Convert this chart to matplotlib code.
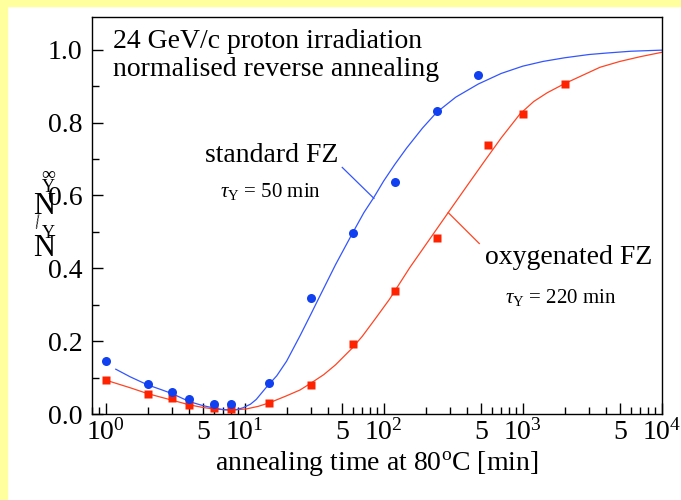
import numpy as np
import matplotlib.pyplot as plt
from matplotlib.ticker import FixedLocator, LogLocator, NullFormatter, FixedFormatter, MultipleLocator
from matplotlib.patches import Rectangle

# ---- measured data: normalised reverse annealing amplitude ----
t_std = [1, 2, 3, 4, 6, 8, 15, 30, 60, 120, 240, 480]
n_std = [0.146, 0.082, 0.060, 0.041, 0.027, 0.027, 0.085, 0.319, 0.498, 0.638, 0.833, 0.932]

t_oxy = [1, 2, 3, 4, 6, 8, 15, 30, 60, 120, 240, 560, 1000, 2000]
n_oxy = [0.093, 0.055, 0.044, 0.025, 0.016, 0.014, 0.030, 0.080, 0.192, 0.338, 0.484, 0.739, 0.825, 0.907]

# ---- fit curves (sampled) ----
t_fit_std = [1.18, 1.5, 2.0, 2.5, 3.0, 4.0, 5.0, 5.9, 7.0, 7.8, 8.7, 9.7, 11, 12.1, 14.2, 17, 20, 25,
             30, 33.8, 45, 59.7, 72, 85, 100, 120, 146, 190, 240, 330, 479, 700, 1000, 1400, 2000,
             3000, 4000, 6000, 10000]
n_fit_std = [0.123, 0.102, 0.080, 0.067, 0.056, 0.034, 0.023, 0.017, 0.012, 0.011, 0.012, 0.017,
             0.027, 0.040, 0.072, 0.105, 0.145, 0.215, 0.275, 0.315, 0.410, 0.497, 0.553, 0.595,
             0.640, 0.685, 0.730, 0.785, 0.828, 0.870, 0.906, 0.935, 0.955, 0.968, 0.978, 0.987,
             0.991, 0.996, 0.999]

t_fit_oxy = [1.0, 1.5, 2.0, 2.5, 3.0, 4.0, 5.0, 5.9, 7.0, 7.8, 9, 10.3, 12.5, 15.1, 20, 25, 30, 37,
             45, 59, 70, 86.4, 110, 154, 200, 291, 400, 535, 700, 957, 1200, 1500, 2000, 2700,
             3600, 5000, 7000, 10000]
n_fit_oxy = [0.093, 0.072, 0.056, 0.046, 0.038, 0.025, 0.018, 0.014, 0.012, 0.011, 0.012, 0.014,
             0.021, 0.031, 0.050, 0.066, 0.085, 0.108, 0.135, 0.180, 0.213, 0.260, 0.315, 0.402,
             0.464, 0.553, 0.628, 0.696, 0.758, 0.824, 0.858, 0.882, 0.907, 0.930, 0.952, 0.968,
             0.981, 0.993]

x_major = [1, 5, 10, 50, 100, 500, 1000, 5000, 10000]
x_major_labels = [r"$10^0$", "5", r"$10^1$", "5", r"$10^2$", "5", r"$10^3$", "5", r"$10^4$"]

plt.rcParams.update({
    "font.family": "Liberation Serif",
    "mathtext.fontset": "custom",
    "mathtext.rm": "Liberation Serif",
    "mathtext.it": "Liberation Serif:italic",
    "font.size": 20,
})

W, H = 681, 500
fig = plt.figure(figsize=(W / 100, H / 100), dpi=100)
fig.patch.set_facecolor("white")
# yellow frame strips (left and top)
fig.patches.append(Rectangle((0, 0), 7 / W, 1, transform=fig.transFigure, color="#FFFF9E", zorder=0))
fig.patches.append(Rectangle((0, 1 - 6 / H), 1, 6 / H, transform=fig.transFigure, color="#FFFF9E", zorder=0))

ax = fig.add_axes([92.3 / W, 1 - 414 / H, (661.7 - 92.3) / W, (414 - 17) / H])
ax.set_xscale("log")
ax.set_xlim(0.8, 1e4)
ax.set_ylim(0, 1.09)

blue_line = "#3355FF"
red_line = "#FF4422"

ax.plot(t_fit_oxy, n_fit_oxy, color=red_line, lw=0.9, zorder=2)
ax.plot(t_fit_std, n_fit_std, color=blue_line, lw=0.9, zorder=2)
ax.plot(t_oxy, n_oxy, "s", color="#FF2200", ms=6.3, mec="none", zorder=3)
ax.plot(t_std, n_std, "o", color="#1040F0", ms=6.5, mec="none", zorder=4)

# leader lines to the labels
ax.plot([50.3, 85], [0.677, 0.592], color=blue_line, lw=0.9)
ax.plot([291, 487], [0.553, 0.468], color=red_line, lw=0.9)

# ticks
ax.xaxis.set_major_locator(FixedLocator(x_major))
ax.xaxis.set_major_formatter(FixedFormatter(x_major_labels))
ax.xaxis.set_minor_locator(LogLocator(base=10, subs=(2, 3, 4, 6, 7, 8, 9)))
ax.xaxis.set_minor_formatter(NullFormatter())
ax.yaxis.set_major_locator(MultipleLocator(0.2))
ax.yaxis.set_minor_locator(MultipleLocator(0.1))
ax.yaxis.set_major_formatter(plt.FuncFormatter(lambda v, p: f"{v:.1f}"))
ax.tick_params(which="both", direction="in", top=False, right=False, width=1.0, labelsize=20)
ax.tick_params(which="major", length=8, pad=4)
ax.tick_params(which="minor", length=5)
ax.tick_params(axis="y", pad=7)
for s in ax.spines.values():
    s.set_linewidth(1.0)

ax.set_xlabel(r"annealing time at 80$^{\rm o}$C [min]", fontsize=20, labelpad=2)


def ftext(x, y, s, **kw):
    fig.text(x / W, 1 - y / H, s, **kw)


ftext(113, 42, "24 GeV/c proton irradiation", fontsize=20, va="center", ha="left")
ftext(113, 70, "normalised reverse annealing", fontsize=20, va="center", ha="left")
ftext(205, 155, "standard FZ", fontsize=20, va="center", ha="left")
ftext(220, 192, r"$\tau_{\rm Y}$ = 50 min", fontsize=15, va="center", ha="left")
ftext(485, 257, "oxygenated FZ", fontsize=20, va="center", ha="left")
ftext(505, 298, r"$\tau_{\rm Y}$ = 220 min", fontsize=15, va="center", ha="left")

# stacked y-axis label N_Y / N_Y^inf
ftext(48, 176, "\u221e", fontsize=14, va="center", ha="center")
ftext(48, 188, "Y", fontsize=13, va="center", ha="center")
ftext(44, 207, "N", fontsize=22, va="center", ha="center")
ftext(38, 224, "/", fontsize=15, va="center", ha="center", rotation=10)
ftext(48, 233, "Y", fontsize=13, va="center", ha="center")
ftext(44, 249, "N", fontsize=22, va="center", ha="center")

fig.savefig("out.png", dpi=100)
